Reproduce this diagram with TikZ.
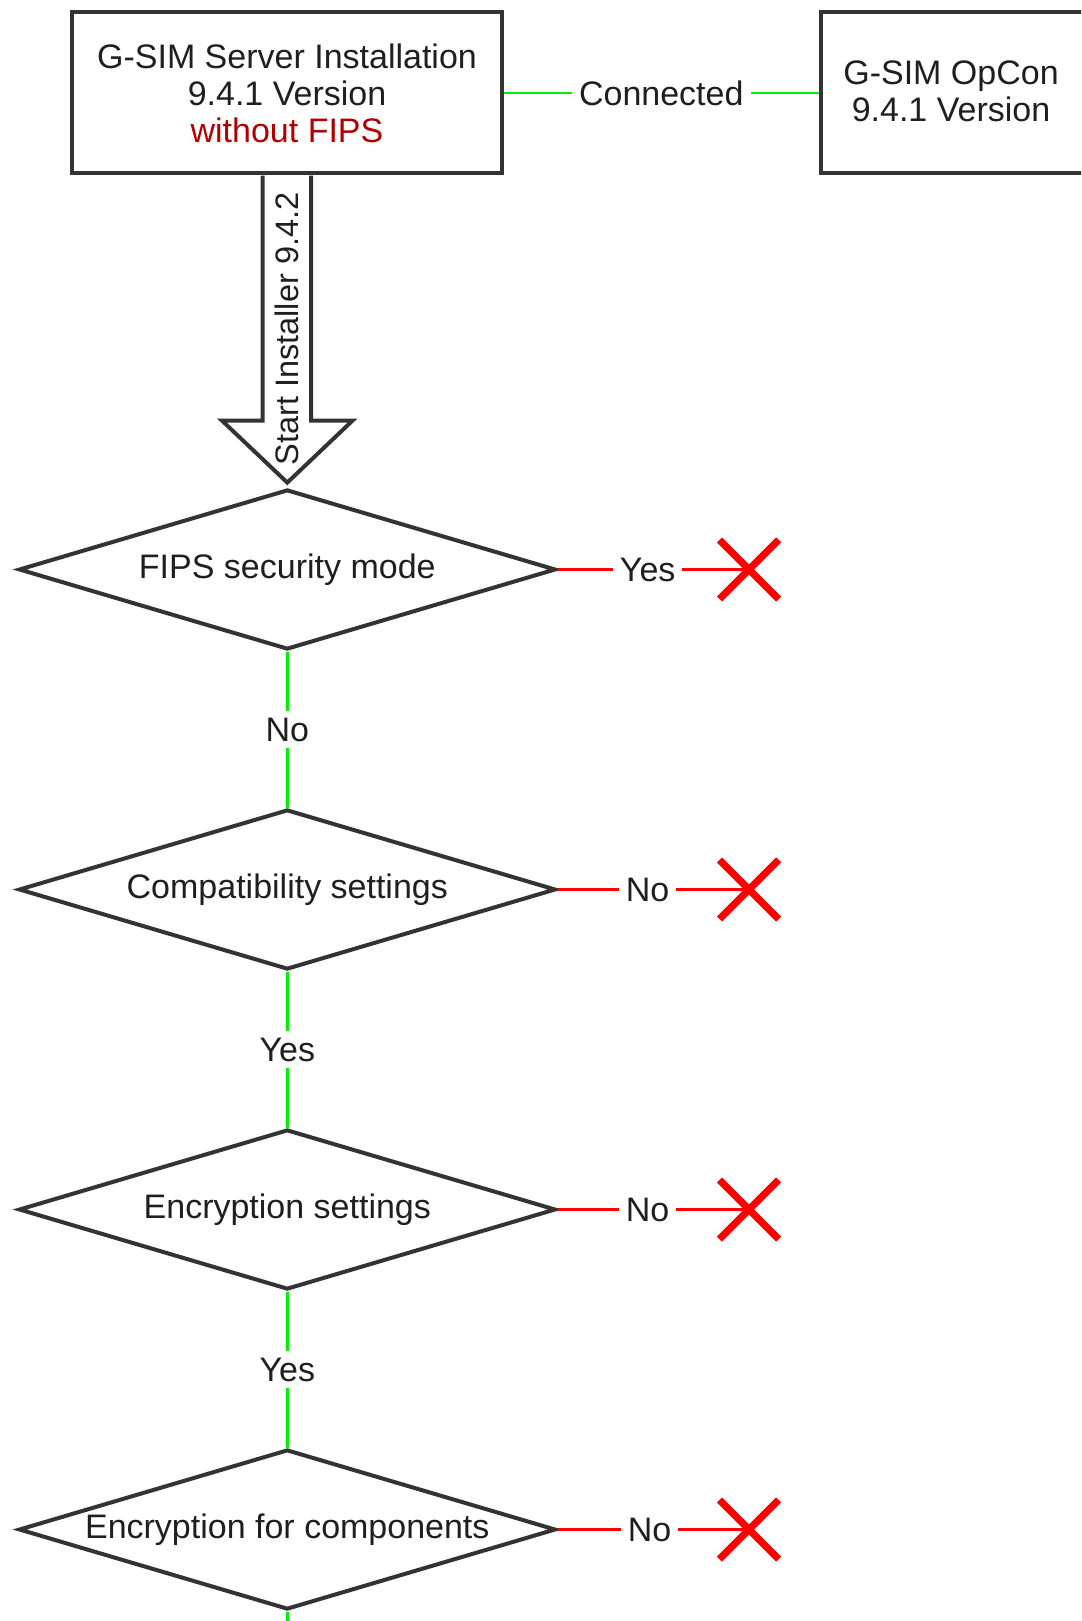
\documentclass[tikz,border=0pt]{standalone}
\usepackage{fontspec}
\setmainfont{Liberation Sans}
\usetikzlibrary{shapes.geometric,shapes.misc}
\definecolor{bordergray}{HTML}{333333}
\definecolor{okgreen}{HTML}{00F000}
\definecolor{badred}{HTML}{FF0000}
\definecolor{darkred}{HTML}{B20000}
\definecolor{txtgray}{HTML}{1F1F1F}
\begin{document}
\begin{tikzpicture}[x=1pt,y=-1pt,
  every node/.style={font=\fontsize{34}{37}\selectfont, text=txtgray},
  box/.style={draw=bordergray, line width=4pt, fill=white, rectangle, minimum width=430pt, minimum height=161pt, align=center},
  decision/.style={draw=bordergray, line width=4pt, fill=white, diamond, shape aspect=3.36, inner sep=0pt, minimum width=537pt, minimum height=160pt},
  okline/.style={draw=okgreen, line width=2.5pt},
  badline/.style={draw=badred, line width=2.5pt},
  edgelbl/.style={fill=white, inner sep=7pt},
  stopmark/.style={cross out, draw=badred, line width=7pt, minimum size=52pt, inner sep=0pt}
]
\useasboundingbox (0,0) rectangle (1081,1621);
\clip (0,0) rectangle (1081,1621);

% top boxes
\node[box] (server) at (287,93) {G-SIM Server Installation\\9.4.1 Version\\\textcolor{darkred}{without FIPS}};
\node[box, minimum width=280pt] (opcon) at (960.6,93) {};
\node (opcontxt) at (951,91) [align=center] {G-SIM OpCon\\9.4.1 Version};
\draw[okline] (server.east) -- node[edgelbl] (conlbl) {Connected} (opcon.west);

% block arrow
\draw[draw=bordergray, fill=white, line width=4pt, line join=miter]
  (262.5,175.6) -- (262.5,420.6) -- (222,420.6) -- (287.3,482.6) -- (352.5,420.6) -- (311,420.6) -- (311,175.6);
\node[rotate=90, font=\fontsize{32.5}{36}\selectfont] (startlbl) at (287,329) {Start Installer 9.4.2};

% decisions
\node[decision] (d1) at (287.3,569.5) {FIPS security mode};
\node[decision] (d2) at (287.3,889.5) {Compatibility settings};
\node[decision] (d3) at (287.3,1209.5) {Encryption settings};
\node[decision] (d4) at (287.3,1529.5) {Encryption for components};

% stop marks
\node[stopmark] (x1) at (749,569.5) {};
\node[stopmark] (x2) at (749,889.5) {};
\node[stopmark] (x3) at (749,1209.5) {};
\node[stopmark] (x4) at (749,1529.5) {};

% red branches
\draw[badline] (d1.east) -- node[edgelbl, pos=0.47] (l1) {Yes} (x1.center);
\draw[badline] (d2.east) -- node[edgelbl, pos=0.47] (l2) {No} (x2.center);
\draw[badline] (d3.east) -- node[edgelbl, pos=0.47] (l3) {No} (x3.center);
\draw[badline] (d4.east) -- node[edgelbl, pos=0.48] (l4) {No} (x4.center);

% green flow
\draw[okline] (d1.south) -- node[edgelbl] (g1) {No} (d2.north);
\draw[okline] (d2.south) -- node[edgelbl] (g2) {Yes} (d3.north);
\draw[okline] (d3.south) -- node[edgelbl] (g3) {Yes} (d4.north);
\coordinate (tail) at (287.3,1640);
\draw[okline] (d4.south) -- (tail);

% redraw crosses on top of the red lines
\node[stopmark] at (x1) {};
\node[stopmark] at (x2) {};
\node[stopmark] at (x3) {};
\node[stopmark] at (x4) {};
\end{tikzpicture}
\end{document}
